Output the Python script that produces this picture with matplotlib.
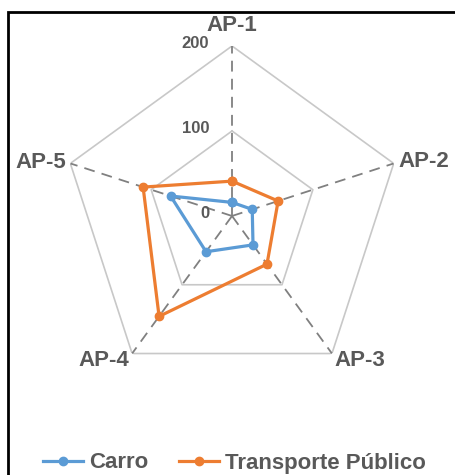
import numpy as np
import matplotlib.pyplot as plt
from matplotlib.patches import Rectangle
from matplotlib.transforms import offset_copy

plt.rcParams['font.family'] = ['Liberation Sans', 'DejaVu Sans']

categories = ['AP-1', 'AP-2', 'AP-3', 'AP-4', 'AP-5']
carro = [16, 25, 42, 52, 76]
transporte = [41, 57, 70, 146, 110]
ticks = [0, 100, 200]

blue = '#5B9BD5'
orange = '#ED7D31'
text_color = '#595959'

fig = plt.figure(figsize=(4.55, 4.75), dpi=100)
ax = fig.add_axes([0.1363, 0.1874, 0.7473, 0.7158], projection='polar')
ax.set_theta_zero_location('N')
ax.set_theta_direction(-1)
ax.set_ylim(0, 200)
ax.grid(False)
ax.spines['polar'].set_visible(False)
ax.set_xticks([])
ax.set_yticks([])
ax.patch.set_visible(False)

n = len(categories)
angles = np.arange(n) * 2 * np.pi / n
closed = np.append(angles, angles[0])

# pentagon gridlines and dashed spokes
for r in ticks[1:]:
    ax.plot(closed, [r] * (n + 1), color='#C8C8C8', lw=1.2, zorder=1)
for a in angles:
    ax.plot([a, a], [0, 200], color='#808080', lw=1.3, ls=(0, (6, 4)), zorder=1)


def close(vals):
    return list(vals) + [vals[0]]


ax.plot(closed, close(carro), color=blue, lw=2.3, marker='o', ms=6, label='Carro', zorder=3)
ax.plot(closed, close(transporte), color=orange, lw=2.3, marker='o', ms=6,
        label='Transporte Público', zorder=3)

# category labels around the outside
label_pos = [(224, 'center', 0), (206, 'left', 0), (205, 'right', -4),
             (205, 'left', -4), (205, 'right', 0)]
for a, name, (r, ha, dy) in zip(angles, categories, label_pos):
    # AP-3 / AP-4 hang off the lower vertices, so flip their alignment
    if name == 'AP-3':
        ha = 'left'
    elif name == 'AP-4':
        ha = 'right'
    trans = offset_copy(ax.transData, fig=fig, x=0, y=dy, units='dots')
    ax.text(a, r, name, ha=ha, va='center', fontsize=16, fontweight='bold',
            color=text_color, transform=trans)

# radial value labels to the left of the first spoke
tick_trans = offset_copy(ax.transData, fig=fig, x=-23, y=2, units='dots')
for t in ticks:
    ax.text(0, t, str(t), ha='right', va='center', fontsize=12, fontweight='bold',
            color=text_color, transform=tick_trans)

fig.legend(loc='center', bbox_to_anchor=(0.515, 12 / 475), ncol=2, frameon=False,
           handlelength=1.8, columnspacing=1.4, handletextpad=0.25,
           prop={'size': 16, 'weight': 'bold'}, labelcolor=text_color)

fig.add_artist(Rectangle((8 / 455, -0.1), 1.2, 1.1 - 12 / 475, transform=fig.transFigure,
                         fill=False, edgecolor='black', lw=2))

fig.savefig('out.png', dpi=100)
